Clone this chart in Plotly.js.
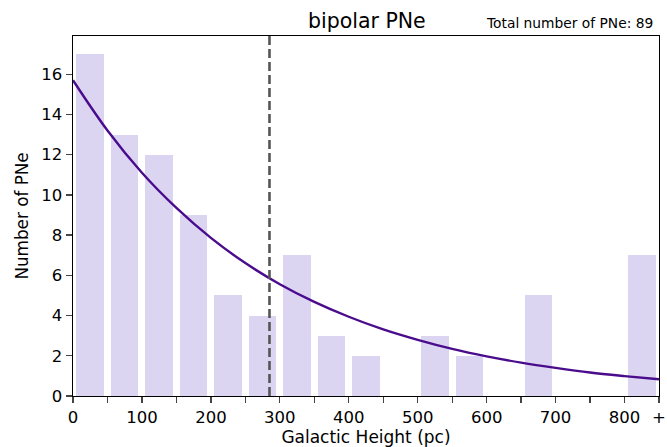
<!DOCTYPE html>
<html>
<head>
<meta charset="utf-8">
<script src="https://cdn.plot.ly/plotly-3.0.1.min.js"></script>
<style>html,body{margin:0;padding:0;background:#fff;}#chart{width:667px;height:447px;}</style>
</head>
<body>
<div id="chart"></div>
<script>
// Histogram bins (centres, pc) and counts
const binCentres = [25, 75, 125, 175, 225, 275, 325, 375, 425, 475, 525, 575, 625, 675, 725, 775, 825];
const counts     = [17, 13, 12, 9, 5, 4, 7, 3, 2, 0, 3, 2, 0, 5, 0, 0, 7];
// Fitted curve
const curveX = [0, 50, 100, 150, 200, 250, 300, 350, 400, 450, 500, 550, 600, 650, 700, 750, 800, 850];
const curveY = [15.7, 13.2, 11.1, 9.35, 7.86, 6.61, 5.56, 4.68, 3.94, 3.31, 2.79, 2.34, 1.97, 1.66, 1.40, 1.17, 0.99, 0.83];
// Scale height marker
const scaleHeight = 285;
const yMax = 17.9;
const tickVals = [0, 50, 100, 150, 200, 250, 300, 350, 400, 450, 500, 550, 600, 650, 700, 750, 800, 850];
const tickText = ['0', '', '100', '', '200', '', '300', '', '400', '', '500', '', '600', '', '700', '', '800', '+'];
const titleText = 'bipolar PNe';
const totalText = 'Total number of PNe: 89';

const font = 'DejaVu Sans, sans-serif';
const traces = [
  {type: 'bar', x: binCentres, y: counts, width: 40,
   marker: {color: '#dcd5f2', line: {width: 0}}, hoverinfo: 'skip'},
  {type: 'scatter', mode: 'lines', x: curveX, y: curveY,
   line: {color: '#4a0c8c', width: 2.4, shape: 'spline'}},
  {type: 'scatter', mode: 'lines', x: [scaleHeight, scaleHeight], y: [0, yMax],
   line: {color: '#555555', width: 2.6, dash: '9px,4px'}}
];
const layout = {
  width: 667, height: 447,
  margin: {l: 73, r: 8, t: 36, b: 51},
  paper_bgcolor: '#fff', plot_bgcolor: '#fff',
  showlegend: false,
  font: {family: font, color: '#000', size: 16.5},
  title: {text: titleText, x: 0.55, xanchor: 'center', y: 0.954, yanchor: 'middle', font: {size: 20.5, family: font}},
  xaxis: {range: [0, 850], tickvals: tickVals, ticktext: tickText, ticks: 'outside', ticklen: 6, tickwidth: 1.3,
          showgrid: false, zeroline: false, showline: true, linecolor: '#000', linewidth: 1.4, mirror: true,
          title: {text: 'Galactic Height (pc)', standoff: 2, font: {size: 17}}, tickfont: {size: 16.5}},
  yaxis: {range: [0, yMax], dtick: 2, ticks: 'outside', ticklen: 6, tickwidth: 1.3,
          showgrid: false, zeroline: false, showline: true, linecolor: '#000', linewidth: 1.4, mirror: true,
          title: {text: 'Number of PNe', standoff: 8, font: {size: 16.8}}, tickfont: {size: 16.5}},
  annotations: [{text: totalText, xref: 'paper', yref: 'paper', x: 0.993, y: 1, xanchor: 'right', yanchor: 'bottom',
                 yshift: 3, showarrow: false, font: {size: 13.8, family: font}}],
  bargap: 0
};
Plotly.newPlot('chart', traces, layout, {displayModeBar: false, staticPlot: true});
</script>
</body>
</html>
